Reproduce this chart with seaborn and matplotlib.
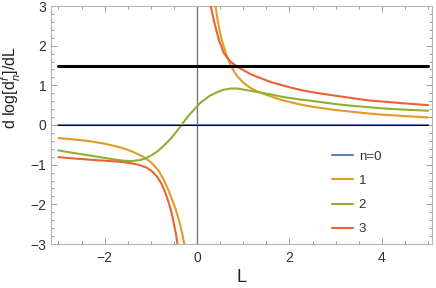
import matplotlib
matplotlib.use("Agg")
import matplotlib.pyplot as plt
import numpy as np
import pandas as pd
import seaborn as sns
from matplotlib.ticker import MultipleLocator
from matplotlib.lines import Line2D

# ---- data ----
series_labels = ["n=0", "1", "2", "3"]
series_colors = ["#5E81B5", "#E19C24", "#8FB032", "#EB6235"]

n0_x = [-3.0, 5.0]
n0_y = [0.0, 0.0]

n1_neg_x = [-3.0, -2.7, -2.37, -2.0, -1.64, -1.4, -1.13, -0.98, -0.84, -0.72, -0.62, -0.54, -0.47, -0.41, -0.36, -0.31, -0.26]
n1_neg_y = [-0.33, -0.36, -0.40, -0.47, -0.57, -0.67, -0.82, -0.96, -1.14, -1.38, -1.64, -1.88, -2.10, -2.32, -2.54, -2.80, -3.10]
n1_pos_x = [0.38, 0.40, 0.43, 0.47, 0.52, 0.58, 0.65, 0.73, 0.80, 0.87, 1.0, 1.16, 1.3, 1.45, 1.6, 1.8, 2.04, 2.26, 2.5, 2.98, 3.3, 3.71, 4.0, 4.44, 5.0]
n1_pos_y = [3.10, 3.0, 2.75, 2.48, 2.20, 1.97, 1.72, 1.49, 1.35, 1.23, 1.07, 0.93, 0.85, 0.78, 0.72, 0.64, 0.57, 0.51, 0.46, 0.38, 0.34, 0.29, 0.26, 0.23, 0.19]

n2_x = [-3.0, -2.7, -2.37, -2.0, -1.78, -1.6, -1.42, -1.27, -1.13, -0.98, -0.84, -0.7, -0.55, -0.44, -0.33, -0.24, -0.15, 0.0, 0.07, 0.14, 0.28, 0.44, 0.58, 0.73, 0.87, 1.02, 1.31, 1.6, 1.89, 2.26, 2.6, 2.98, 3.3, 3.71, 4.0, 4.44, 5.0]
n2_y = [-0.64, -0.70, -0.76, -0.83, -0.87, -0.90, -0.91, -0.89, -0.85, -0.76, -0.65, -0.50, -0.32, -0.16, 0.01, 0.15, 0.28, 0.47, 0.56, 0.62, 0.74, 0.83, 0.89, 0.92, 0.92, 0.89, 0.83, 0.77, 0.70, 0.64, 0.59, 0.53, 0.49, 0.45, 0.42, 0.39, 0.36]

n3_neg_x = [-3.0, -2.7, -2.37, -2.0, -1.64, -1.45, -1.27, -1.1, -0.98, -0.86, -0.76, -0.69, -0.62, -0.56, -0.51, -0.46, -0.41]
n3_neg_y = [-0.81, -0.84, -0.87, -0.90, -0.93, -0.96, -1.00, -1.07, -1.16, -1.31, -1.50, -1.70, -1.93, -2.17, -2.44, -2.72, -3.10]
n3_pos_x = [0.27, 0.29, 0.36, 0.47, 0.58, 0.73, 0.87, 1.16, 1.60, 2.04, 2.26, 2.47, 2.98, 3.71, 4.44, 5.0]
n3_pos_y = [3.10, 3.04, 2.65, 2.15, 1.81, 1.59, 1.47, 1.28, 1.08, 0.94, 0.88, 0.83, 0.74, 0.62, 0.55, 0.50]

ref_x = [-3.0, 5.0]
ref_y = [1.5, 1.5]

x_major = [-2, 0, 2, 4]
y_major = [-3, -2, -1, 0, 1, 2, 3]

# ---- build long table ----
parts = [
    ("n=0", "a", n0_x, n0_y),
    ("1", "b", n1_neg_x, n1_neg_y),
    ("1", "c", n1_pos_x, n1_pos_y),
    ("2", "d", n2_x, n2_y),
    ("3", "e", n3_neg_x, n3_neg_y),
    ("3", "f", n3_pos_x, n3_pos_y),
]
rows = []
for s, b, xs, ys in parts:
    for xv, yv in zip(xs, ys):
        rows.append({"x": xv, "y": yv, "series": s, "branch": b})
df = pd.DataFrame(rows)

sns.set_style("ticks")
plt.rcParams['font.family'] = ['Liberation Sans', 'DejaVu Sans']
plt.rcParams['mathtext.fontset'] = 'custom'
plt.rcParams['mathtext.rm'] = 'Liberation Sans'
plt.rcParams['mathtext.it'] = 'Liberation Sans:italic'

fig = plt.figure(figsize=(4.36, 2.88), dpi=100)
ax = fig.add_axes([51/436, 1-244/288, (432.3-51)/436, (244-6)/288])

palette = dict(zip(series_labels, series_colors))
sns.lineplot(data=df, x="x", y="y", hue="series", units="branch", estimator=None,
             sort=False, palette=palette, hue_order=series_labels, legend=False,
             lw=1.5, ax=ax, zorder=3)

# axes lines
ax.plot(ref_x, [0, 0], color="black", lw=0.7, zorder=4)
ax.axvline(0, color="#777777", lw=1.0, zorder=2)
ax.plot(ref_x, ref_y, color="black", lw=2.2, zorder=5)

ax.set_xlim(-3.16, 5.09)
ax.set_ylim(-3, 3)
ax.xaxis.set_major_locator(plt.FixedLocator(x_major))
ax.xaxis.set_minor_locator(MultipleLocator(0.5))
ax.yaxis.set_major_locator(plt.FixedLocator(y_major))
ax.yaxis.set_minor_locator(MultipleLocator(0.2))
ax.set_xticklabels(["\u22122", "0", "2", "4"])
ax.set_yticklabels(["\u22123", "\u22122", "\u22121", "0", "1", "2", "3"])
ax.tick_params(which="both", direction="in", top=True, right=True, color="#9a9a9a", width=0.7,
               labelcolor="#333333", labelsize=10)
ax.tick_params(which="major", length=4.5, pad=3.5)
ax.tick_params(which="minor", length=2.5)
ax.tick_params(axis="x", which="major", pad=5)
for sp in ax.spines.values():
    sp.set_color("#b5b5b5")
    sp.set_linewidth(0.8)

ax.set_xlabel("L", fontsize=13, color="#222222", labelpad=3)
ax.set_ylabel("")
fig.text(11/436, 1-88/288, r"d log[$\mathregular{d}^{f}_{n}$]/dL", rotation=90,
         ha="center", va="center", fontsize=11.5, color="#222222")

handles = [Line2D([0], [0], color=c, lw=1.5) for c in series_colors]
ax.legend(handles, series_labels, loc="upper left", bbox_to_anchor=(0.736, 0.392),
          frameon=False, fontsize=9.5, handlelength=1.6, handletextpad=0.45,
          labelspacing=0.9, borderpad=0, borderaxespad=0, labelcolor="#333333")

fig.savefig("out.png", dpi=100)
